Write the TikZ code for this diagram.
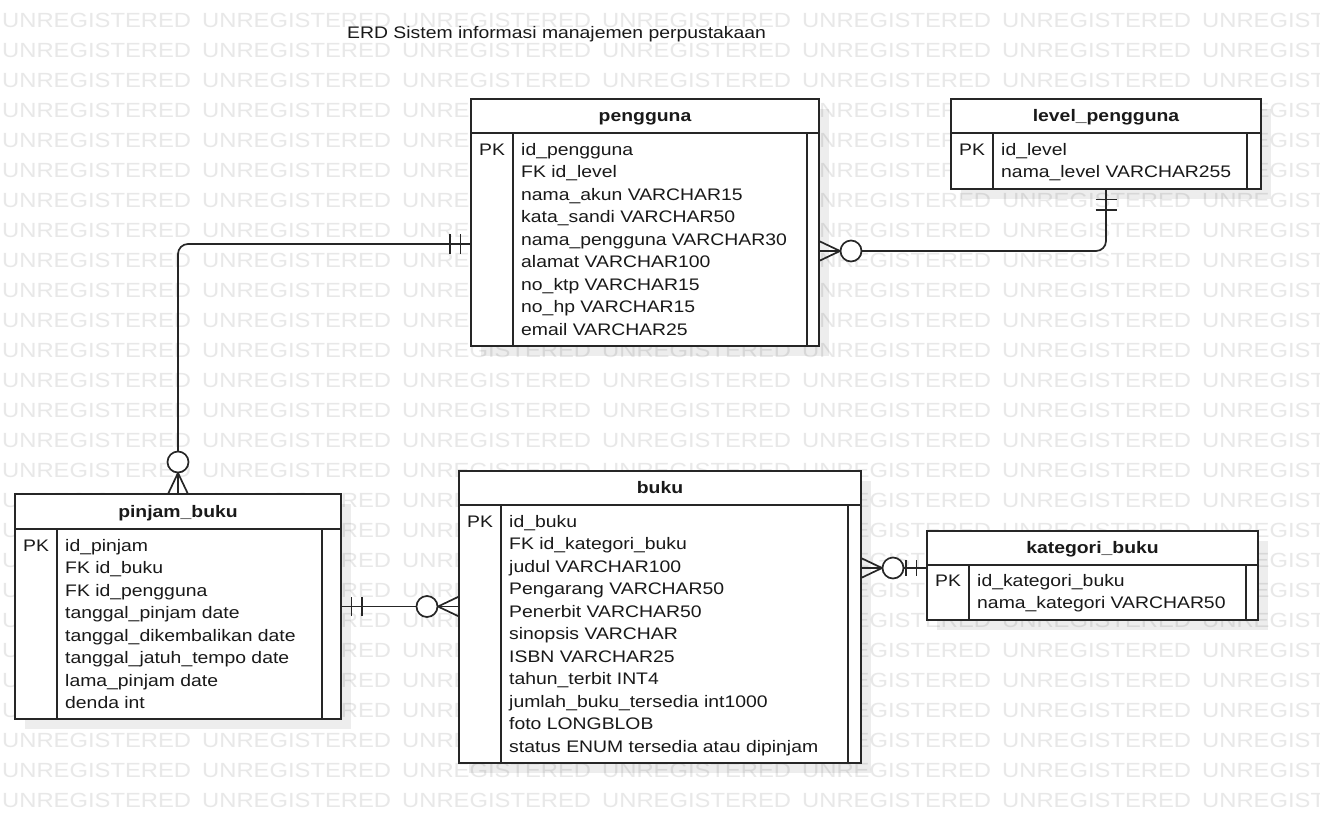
\documentclass[tikz,border=0pt]{standalone}
\usepackage{fontspec}
\setmainfont{Liberation Sans}[FakeStretch=1.16]
\newcommand\ERlines[6]{% L R H B PKx IRx
  \draw[tline] (#1,#3) -- (#2,#3);
  \draw[tline] (#5,#3) -- (#5,#4);
  \draw[tline] (#6,#3) -- (#6,#4);}
\newcommand\ERshadow[4]{% L T R B
  \fill[shadowbox] ({#1+10},{#2+10}) rectangle ({#3+10},{#4+10});}
\newcommand\zeromany[2]{% coordinate, direction away from box
  \begin{scope}[shift={(#1)}, rotate=#2]
    \draw[conn] (0,10) -- (21,0) (0,-10) -- (21,0);
    \draw[ocircle] (32,0) circle[radius=10.5];
  \end{scope}}
\newcommand\mandone[3]{% coordinate, direction away from box, half length
  \begin{scope}[shift={(#1)}, rotate=#2]
    \draw[conn] (10.5,#3) -- (10.5,-#3) (21,#3) -- (21,-#3);
  \end{scope}}
\begin{document}
\begin{tikzpicture}[x=1pt,y=-1pt,
  tablebox/.style={draw=black!85, line width=1.7pt, fill=white, inner sep=0pt, outer sep=0pt},
  tline/.style={draw=black!85, line width=1.7pt},
  shadowbox/.style={fill=black, opacity=0.07},
  conn/.style={draw=black!85, line width=1.7pt},
  ocircle/.style={draw=black!85, line width=1.7pt, fill=white},
  rowtext/.style={anchor=base west, inner sep=0pt, text=black!90, font=\fontsize{16.7}{20}\selectfont},
  headtext/.style={anchor=base, inner sep=0pt, text=black!90, font=\fontsize{16.7}{20}\selectfont\bfseries},
  wm/.style={anchor=base west, inner sep=0pt, text=black!9, font=\fontsize{20.5}{24}\selectfont}
]
\useasboundingbox[fill=white] (0,0) rectangle (1320,823);

% watermark
\begin{scope}
  \clip (0,0) rectangle (1320,823);
  \foreach \r in {0,...,26}
    \foreach \c in {0,...,6}
      \node[wm] (wm-\r-\c) at ({2+200*\c},{27.5+30*\r}) {UNREGISTERED};
\end{scope}

% title
\node[rowtext] (title) at (347,38.3) {ERD Sistem informasi manajemen perpustakaan};

% shadows
\ERshadow{471}{99}{819}{346}
\ERshadow{951}{99}{1261}{189}
\ERshadow{15}{494}{341}{719}
\ERshadow{459}{471}{861}{763}
\ERshadow{927}{531}{1258}{620}

% tables
\node[tablebox, minimum width=348pt, minimum height=247pt] (pengguna) at (645,222.5) {};
\ERlines{471}{819}{133}{346}{513}{807}
\node[headtext] (pengguna-h) at (645,121.5) {pengguna};
\node[rowtext] (pengguna-pk) at (479,155) {PK};
\foreach \t [count=\i from 0] in {id\_pengguna, FK id\_level, nama\_akun VARCHAR15, kata\_sandi VARCHAR50, nama\_pengguna VARCHAR30, alamat VARCHAR100, no\_ktp VARCHAR15, no\_hp VARCHAR15, email VARCHAR25}
  \node[rowtext] (pengguna-r\i) at (521,{155+22.5*\i}) {\t};

\node[tablebox, minimum width=310pt, minimum height=90pt] (level) at (1106,144) {};
\ERlines{951}{1261}{133}{189}{993}{1247}
\node[headtext] (level-h) at (1106,121.5) {level\_pengguna};
\node[rowtext] (level-pk) at (959,155) {PK};
\foreach \t [count=\i from 0] in {id\_level, nama\_level VARCHAR255}
  \node[rowtext] (level-r\i) at (1001,{155+22.5*\i}) {\t};

\node[tablebox, minimum width=326pt, minimum height=225pt] (pinjam) at (178,606.5) {};
\ERlines{15}{341}{529}{719}{57}{322}
\node[headtext] (pinjam-h) at (178,517) {pinjam\_buku};
\node[rowtext] (pinjam-pk) at (23,551) {PK};
\foreach \t [count=\i from 0] in {id\_pinjam, FK id\_buku, FK id\_pengguna, tanggal\_pinjam date, tanggal\_dikembalikan date, tanggal\_jatuh\_tempo date, lama\_pinjam date, denda int}
  \node[rowtext] (pinjam-r\i) at (65,{551+22.5*\i}) {\t};

\node[tablebox, minimum width=402pt, minimum height=292pt] (buku) at (660,617) {};
\ERlines{459}{861}{505}{763}{501}{848}
\node[headtext] (buku-h) at (660,493.5) {buku};
\node[rowtext] (buku-pk) at (467,527) {PK};
\foreach \t [count=\i from 0] in {id\_buku, FK id\_kategori\_buku, judul VARCHAR100, Pengarang VARCHAR50, Penerbit VARCHAR50, sinopsis VARCHAR, ISBN VARCHAR25, tahun\_terbit INT4, jumlah\_buku\_tersedia int1000, foto LONGBLOB, status ENUM tersedia atau dipinjam}
  \node[rowtext] (buku-r\i) at (509,{527+22.5*\i}) {\t};

\node[tablebox, minimum width=331pt, minimum height=89pt] (kategori) at (1092.5,575.5) {};
\ERlines{927}{1258}{565}{620}{969}{1246}
\node[headtext] (kategori-h) at (1092.5,553.5) {kategori\_buku};
\node[rowtext] (kategori-pk) at (935,586) {PK};
\foreach \t [count=\i from 0] in {id\_kategori\_buku, nama\_kategori VARCHAR50}
  \node[rowtext] (kategori-r\i) at (977,{586+22.5*\i}) {\t};

% connectors
\coordinate (e1a) at ([yshift=-21.5pt]pengguna.west);
\draw[conn, rounded corners=10pt] (e1a) -| (pinjam.north);
\mandone{e1a}{180}{10}
\zeromany{pinjam.north}{90}

\coordinate (e2b) at ([yshift=-28.5pt]pengguna.east);
\draw[conn, rounded corners=10pt] (level.south) |- (e2b);
\mandone{level.south}{-90}{10.5}
\zeromany{e2b}{0}

\coordinate (e3b) at (pinjam.east -| buku.west);
\draw[conn] (pinjam.east) -- (e3b);
\mandone{pinjam.east}{0}{9.5}
\zeromany{e3b}{180}

\coordinate (e4a) at ([yshift=49pt]buku.east);
\coordinate (e4b) at (e4a -| kategori.west);
\draw[conn] (e4a) -- (e4b);
\zeromany{e4a}{0}
\mandone{e4b}{180}{8}
\end{tikzpicture}
\end{document}
